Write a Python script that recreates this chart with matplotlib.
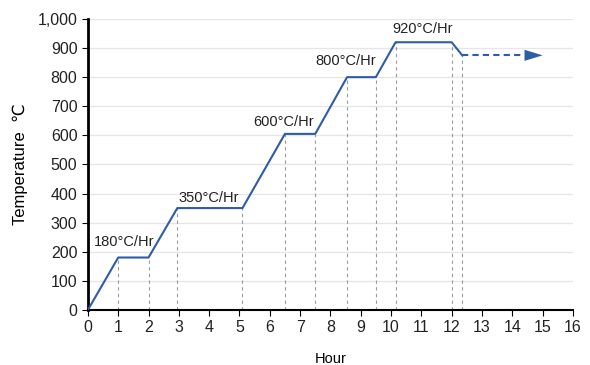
import matplotlib
matplotlib.use("Agg")
import matplotlib.pyplot as plt
from matplotlib.ticker import FuncFormatter

plt.rcParams["font.family"] = ["Liberation Sans Narrow", "Liberation Sans", "DejaVu Sans"]

# firing schedule (hours, degrees C)
hours = [0, 1, 2, 2.95, 5.1, 6.5, 7.5, 8.55, 9.5, 10.15, 12.0, 12.35]
temps = [0, 180, 180, 350, 350, 605, 605, 800, 800, 920, 920, 875]
hold_end = 15.0

rate_labels = ["180°C/Hr", "350°C/Hr", "600°C/Hr", "800°C/Hr", "920°C/Hr"]
label_x = [1.2, 4.0, 6.45, 8.5, 11.05]
label_y = [232, 383, 645, 855, 965]

blue = "#2f5ba9"

fig = plt.figure(figsize=(5.9, 3.65), dpi=100)
ax = fig.add_axes([0.149, 0.151, 0.822, 0.797])

ax.set_xlim(0, 16)
ax.set_ylim(0, 1000)
ax.set_xticks(range(0, 17))
ax.set_yticks(range(0, 1001, 100))
ax.yaxis.set_major_formatter(FuncFormatter(lambda v, p: f"{int(v):,}"))

ax.grid(axis="y", color="#e6e6e6", linewidth=1)
ax.set_axisbelow(True)

# dashed drop lines from each vertex
for h, t in zip(hours[1:], temps[1:]):
    ax.plot([h, h], [0, t], color="#999999", linestyle=(0, (3, 3)), linewidth=0.8, zorder=1)

ax.plot(hours, temps, color=blue, linewidth=1.5, zorder=3)
ax.plot([hours[-1], hold_end - 0.65], [temps[-1], temps[-1]], color=blue,
        linewidth=1.5, linestyle=(0, (3, 2)), zorder=3)
ax.annotate("", xy=(hold_end, temps[-1]), xytext=(hold_end - 0.7, temps[-1]),
            arrowprops=dict(arrowstyle="-|>,head_length=1.3,head_width=0.4",
                            color=blue, lw=0, shrinkA=0, shrinkB=0))

for txt, x, y in zip(rate_labels, label_x, label_y):
    ax.text(x, y, txt, ha="center", va="center", fontsize=10.5, color="#222222")

for s in ["top", "right"]:
    ax.spines[s].set_visible(False)
ax.spines["left"].set_linewidth(2)
ax.spines["bottom"].set_linewidth(1.5)
ax.tick_params(axis="both", labelsize=11.5, length=4, color="black", labelcolor="#222222")

ax.set_xlabel("Hour", fontsize=10.5, labelpad=12)
ax.set_ylabel("Temperature  ℃", fontsize=12, labelpad=7)

fig.savefig("out.png", dpi=100)
plt.close()
